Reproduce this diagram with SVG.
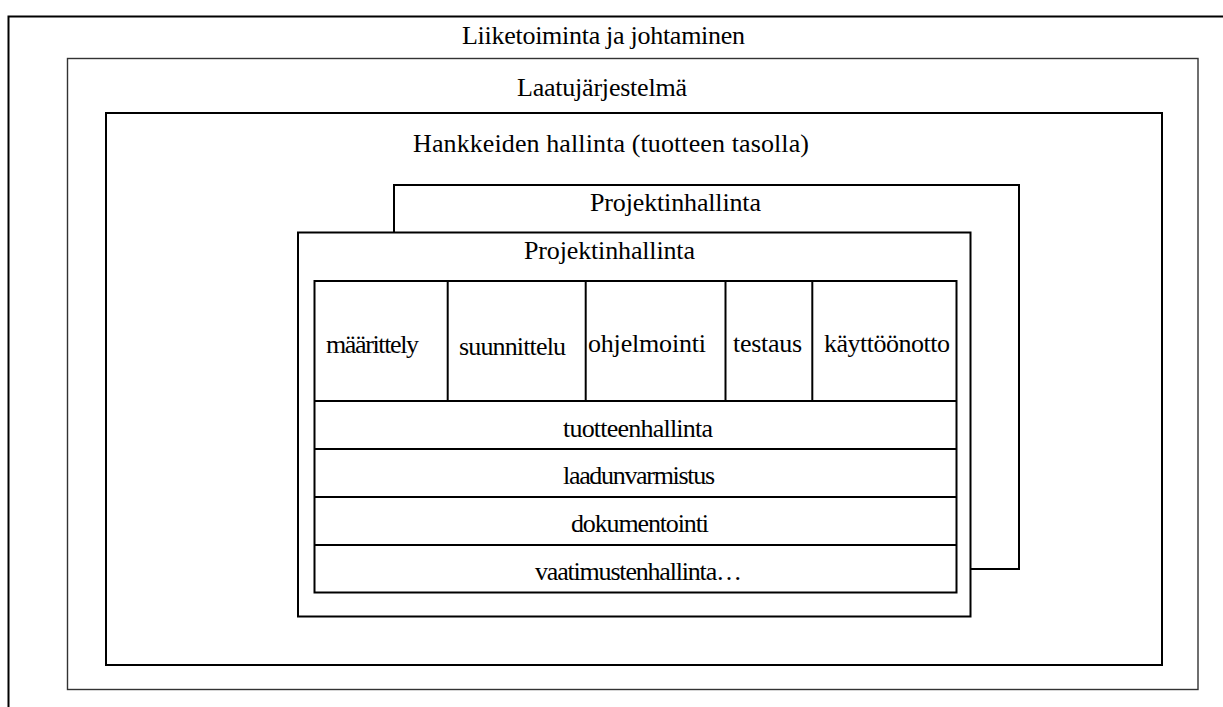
<svg xmlns="http://www.w3.org/2000/svg" width="1223" height="707" viewBox="0 0 1223 707">
<style>
  .box { fill: #fff; stroke: #000; stroke-width: 2; }
  .thin { fill: #fff; stroke: #333; stroke-width: 1.4; }
  .ln { stroke: #000; stroke-width: 2; fill: none; }
  .t { font-family: 'Liberation Serif', 'Times New Roman', 'DejaVu Serif', serif; font-size: 26px; fill: #000; }
</style>
<rect width="1223" height="707" fill="#fff"/>
<g id="liiketoiminta">
  <path class="ln" d="M8.5,707 V16.5 H1223"/>
  <text class="t" x="462" y="44" textLength="283">Liiketoiminta ja johtaminen</text>
</g>
<g id="laatujarjestelma">
  <rect class="thin" x="67.5" y="58.5" width="1130.5" height="631"/>
  <text class="t" x="517" y="96" textLength="170">Laatujärjestelmä</text>
</g>
<g id="hankkeiden">
  <rect class="box" x="106" y="113" width="1056" height="552"/>
  <text class="t" x="413" y="152" textLength="396">Hankkeiden hallinta (tuotteen tasolla)</text>
</g>
<g id="projekti-back">
  <rect class="box" x="394" y="185" width="625" height="384"/>
  <text class="t" x="590" y="211" textLength="171">Projektinhallinta</text>
</g>
<g id="projekti-front">
  <rect class="box" x="298" y="232.5" width="672.5" height="384"/>
  <text class="t" x="524" y="259" textLength="171">Projektinhallinta</text>
</g>
<g id="table">
  <rect class="box" x="314.5" y="281" width="642" height="311.5"/>
</g>
<g id="connectors">
  <line class="ln" x1="447.7" y1="281" x2="447.7" y2="401"/>
  <line class="ln" x1="585.7" y1="281" x2="585.7" y2="401"/>
  <line class="ln" x1="725.5" y1="281" x2="725.5" y2="401"/>
  <line class="ln" x1="812.3" y1="281" x2="812.3" y2="401"/>
  <line class="ln" x1="314.5" y1="401" x2="956.5" y2="401"/>
  <line class="ln" x1="314.5" y1="449" x2="956.5" y2="449"/>
  <line class="ln" x1="314.5" y1="497" x2="956.5" y2="497"/>
  <line class="ln" x1="314.5" y1="545" x2="956.5" y2="545"/>
</g>
<g id="maarittely"><text class="t" x="326" y="353" textLength="93">määrittely</text></g>
<g id="suunnittelu"><text class="t" x="459" y="355" textLength="107">suunnittelu</text></g>
<g id="ohjelmointi"><text class="t" x="588" y="352" textLength="118">ohjelmointi</text></g>
<g id="testaus"><text class="t" x="733" y="352" textLength="69">testaus</text></g>
<g id="kayttoonotto"><text class="t" x="824" y="352" textLength="126">käyttöönotto</text></g>
<g id="tuotteenhallinta"><text class="t" x="563" y="437" textLength="150">tuotteenhallinta</text></g>
<g id="laadunvarmistus"><text class="t" x="563" y="484" textLength="152">laadunvarmistus</text></g>
<g id="dokumentointi"><text class="t" x="571" y="532" textLength="138">dokumentointi</text></g>
<g id="vaatimustenhallinta"><text class="t" x="535" y="580" textLength="207">vaatimustenhallinta…</text></g>
</svg>
